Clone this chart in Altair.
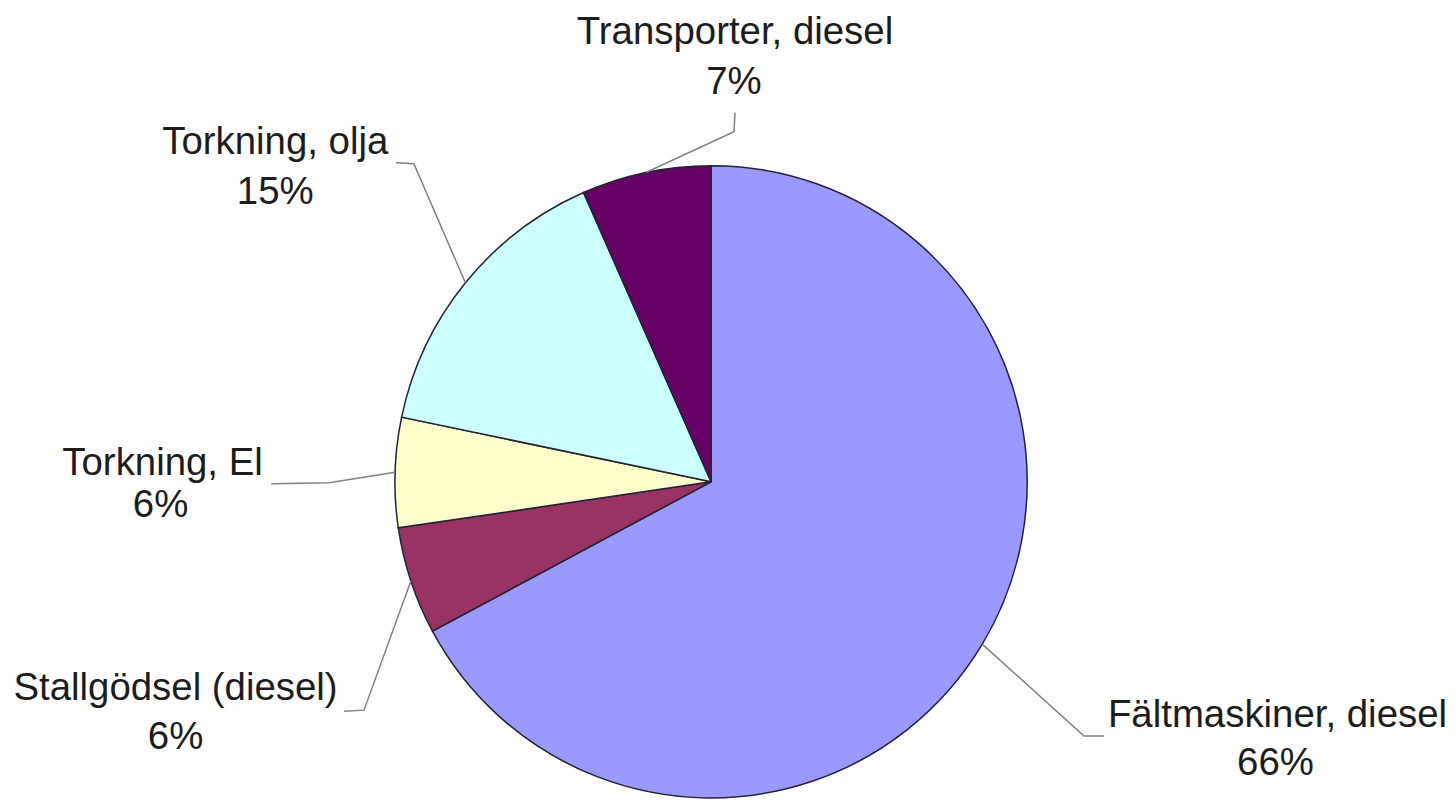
import math
import altair as alt
import pandas as pd

# ---- data ----
categories = ["Fältmaskiner, diesel", "Stallgödsel (diesel)", "Torkning, El",
              "Torkning, olja", "Transporter, diesel"]
shares = [67.1, 5.5, 5.6, 15.1, 6.6]          # slice sizes measured from angles
pct_labels = ["66%", "6%", "6%", "15%", "7%"]  # printed labels
colors = ["#9999FF", "#993366", "#FFFFCC", "#CCFFFF", "#660066"]

# ---- layout (chart pixels) ----
W, H = 1440, 780
CX, CY, R = 705, 474, 317
name_x = [1273, 168, 155, 268, 729]
name_y = [720, 693, 467, 145, 35]
pct_x = [1271, 168, 153, 268, 728]
pct_y = [768, 742, 509, 195, 85]
elbow_x = [1079, 357, 322, 407, 728]
elbow_y = [729, 703, 475, 155, 123]
end_x = [1099, 337, 264, 389, 729]
end_y = [729, 704, 476, 154, 104]

total = sum(shares)
df = pd.DataFrame({"category": categories, "share": shares, "idx": range(len(shares)),
                   "pct": pct_labels, "nx": name_x, "ny": name_y,
                   "px": pct_x, "py": pct_y})

rows = []
cum = 0.0
for i, s in enumerate(shares):
    mid = (cum + s / 2) / total * 2 * math.pi
    cum += s
    sx = CX + R * math.sin(mid)
    sy = CY - R * math.cos(mid)
    for k, (x, y) in enumerate([(sx, sy), (elbow_x[i], elbow_y[i]), (end_x[i], end_y[i])]):
        rows.append({"seg": i, "ord": k, "x": x, "y": y})
lines = pd.DataFrame(rows)

xs = alt.Scale(domain=[0, W], nice=False, zero=False)
ys = alt.Scale(domain=[0, H], nice=False, zero=False, reverse=True)

pie = alt.Chart(df).mark_arc(radius=R, stroke="#222233", strokeWidth=1.5).encode(
    theta=alt.Theta("share:Q", stack=True),
    color=alt.Color("category:N", scale=alt.Scale(domain=categories, range=colors), legend=None),
    order=alt.Order("idx:Q"),
    x=alt.value(CX),
    y=alt.value(CY),
)

leaders = alt.Chart(lines).mark_line(color="#808080", strokeWidth=1.5).encode(
    x=alt.X("x:Q", scale=xs, axis=None),
    y=alt.Y("y:Q", scale=ys, axis=None),
    detail="seg:N",
    order="ord:Q",
)

txt = dict(font="Liberation Sans", fontSize=38.5, color="#1c1c1c", align="center",
           baseline="alphabetic")
names = alt.Chart(df).mark_text(**txt).encode(
    x=alt.X("nx:Q", scale=xs, axis=None),
    y=alt.Y("ny:Q", scale=ys, axis=None),
    text="category:N",
)
pcts = alt.Chart(df).mark_text(**txt).encode(
    x=alt.X("px:Q", scale=xs, axis=None),
    y=alt.Y("py:Q", scale=ys, axis=None),
    text="pct:N",
)

chart = alt.layer(pie, leaders, names, pcts).properties(
    width=W, height=H, padding=0
).configure_view(stroke=None)

chart.save("out.html", embed_options={"renderer": "svg", "actions": False})
